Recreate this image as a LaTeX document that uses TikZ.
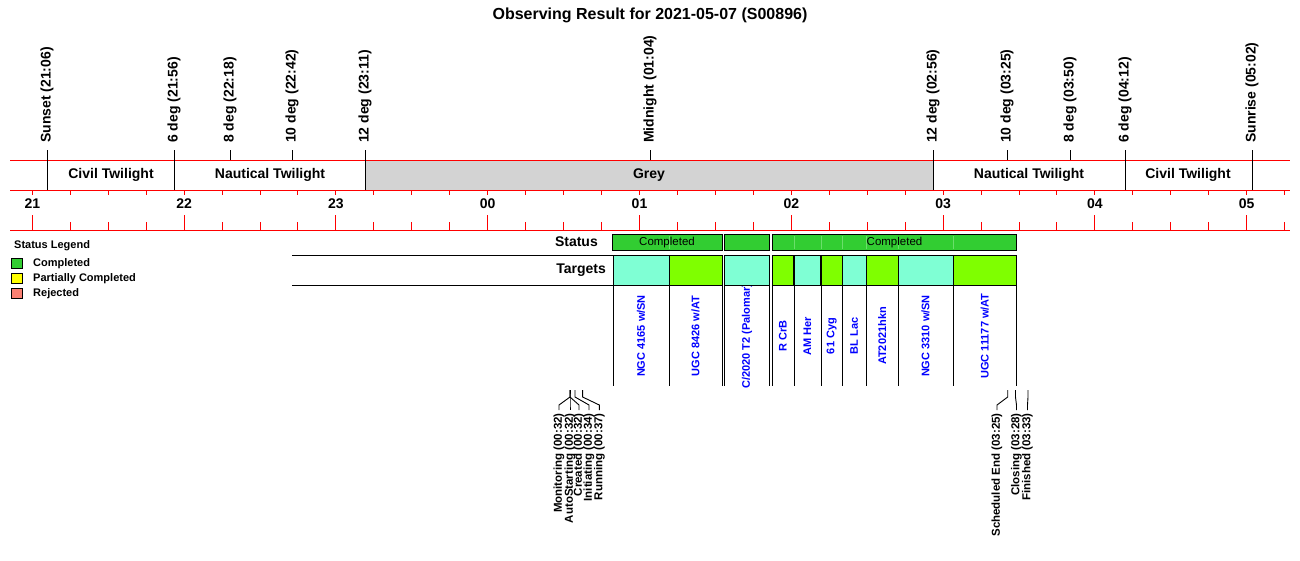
\documentclass[tikz,border=0pt]{standalone}
\usepackage{fontspec}
\setmainfont{Liberation Sans}
\definecolor{lgreen}{HTML}{32CD32}
\definecolor{aqua}{HTML}{7FFFD4}
\definecolor{chart}{HTML}{7FFF00}
\definecolor{greyband}{HTML}{D3D3D3}
\definecolor{salmonc}{HTML}{FA8072}
\definecolor{faint}{HTML}{6ADF6A}
\definecolor{yel}{HTML}{FFFF00}
\begin{document}
\begin{tikzpicture}[x=1pt,y=-1pt,
  redline/.style={draw=red, line width=1pt},
  blk/.style={draw=black, line width=1pt},
  titlefont/.style={font=\fontsize{16}{18}\selectfont\bfseries},
  evlabel/.style={rotate=90, anchor=west, inner sep=0pt, font=\fontsize{14}{16}\selectfont\bfseries},
  bandlabel/.style={inner sep=0pt, font=\fontsize{14}{16}\selectfont\bfseries},
  hourlabel/.style={inner sep=0pt, font=\fontsize{14}{16}\selectfont\bfseries},
  rowlabel/.style={anchor=east, inner sep=0pt, font=\fontsize{14}{16}\selectfont\bfseries},
  tgtlabel/.style={rotate=90, inner sep=0pt, text=blue, font=\fontsize{11}{12}\selectfont\bfseries},
  botlabel/.style={rotate=90, anchor=east, inner sep=0pt, font=\fontsize{11.5}{12}\selectfont\bfseries},
  legtitle/.style={anchor=west, inner sep=0pt, font=\fontsize{11}{12}\selectfont\bfseries},
  legtext/.style={anchor=west, inner sep=0pt, font=\fontsize{11}{12}\selectfont\bfseries},
  legbox/.style={draw=black, line width=1pt, minimum width=11pt, minimum height=10pt, inner sep=0pt},
  statusbox/.style={fill=lgreen, inner sep=0pt, minimum height=15pt},
  statustext/.style={inner sep=0pt, font=\fontsize{11.5}{13}\selectfont},
  tgtbox/.style={draw=black, line width=1pt, inner sep=0pt, minimum height=30pt}
]
\useasboundingbox (0,0) rectangle (1300,560);

% title
\node[titlefont] (title) at (650,15) {Observing Result for 2021-05-07 (S00896)};

% grey band
\fill[greyband] (365,160) rectangle (933,190);

% red axis lines
\draw[redline] (10,160) -- (1290,160);
\draw[redline] (10,190) -- (1290,190);
\draw[redline] (10,230) -- (1290,230);

% ticks
\foreach \k in {0,...,33} {
  \pgfmathsetmacro\tx{32.3+37.95*\k}
  \pgfmathsetmacro\ty{ifthenelse(mod(\k,4)==0,215,222)}
  \draw[redline] (\tx,190) -- (\tx,195);
  \draw[redline] (\tx,\ty) -- (\tx,230);
}

% hour labels
\foreach \h [count=\i from 0] in {21,22,23,00,01,02,03,04,05} {
  \node[hourlabel] (hr\i) at ({32.3+151.8*\i},203.5) {\h};
}

% top events
\foreach \x/\t/\n/\e in {
  47/{Sunset (21:06)}/ss/190,
  174/{6 deg (21:56)}/ea/190,
  230/{8 deg (22:18)}/eb/160,
  292/{10 deg (22:42)}/ec/160,
  365/{12 deg (23:11)}/ed/190,
  650/{Midnight (01:04)}/mn/160,
  933/{12 deg (02:56)}/me/190,
  1007/{10 deg (03:25)}/mf/160,
  1070/{8 deg (03:50)}/mg/160,
  1125/{6 deg (04:12)}/mh/190,
  1252/{Sunrise (05:02)}/sr/190} {
  \coordinate (\n t) at (\x,150);
  \coordinate (\n b) at (\x,\e);
  \draw[blk] (\n t) -- (\n b);
  \node[evlabel] (\n l) at (\x,143) {\t};
}

% band labels
\node[bandlabel] (civ1) at (111,175) {Civil Twilight};
\node[bandlabel] (nau1) at (270,175) {Nautical Twilight};
\node[bandlabel] (grey) at (649,175) {Grey};
\node[bandlabel] (nau2) at (1029,175) {Nautical Twilight};
\node[bandlabel] (civ2) at (1188,175) {Civil Twilight};

% legend
\node[legtitle] (legt) at (14,246) {Status Legend};
\node[legbox, fill=lgreen] (lg1) at (16.5,263) {};
\node[legbox, fill=yel] (lg2) at (16.5,278) {};
\node[legbox, fill=salmonc] (lg3) at (16.5,293) {};
\node[legtext] (lt1) at (33,264) {Completed};
\node[legtext] (lt2) at (33,279) {Partially Completed};
\node[legtext] (lt3) at (33,294) {Rejected};

% row labels and lines
\node[rowlabel] (statuslbl) at (598,242) {Status};
\node[rowlabel] (targetslbl) at (606,270) {Targets};
\draw[blk] (292,255) -- (613,255);
\draw[blk] (292,285) -- (613,285);

% status boxes
\node[statusbox, minimum width=109pt] (sb1) at (667.5,242.5) {};
\node[statusbox, minimum width=45pt] (sb2) at (747,242.5) {};
\node[statusbox, minimum width=244pt] (sb3) at (894.5,242.5) {};
\foreach \x in {669,794,821,842,866.5,898,953} {
  \draw[faint, line width=0.8pt] (\x,236) -- (\x,249);
}
\draw[blk] (sb1.north west) rectangle (sb1.south east);
\draw[blk] (sb2.north west) rectangle (sb2.south east);
\draw[blk] (sb3.north west) rectangle (sb3.south east);
\node[statustext] (st1) at (667,242.5) {Completed};
\node[statustext] (st3) at (894.5,242.5) {Completed};

% target labels
\def\targets{613/669/aqua/{NGC 4165 w/SN}/ta,
  669/722/chart/{UGC 8426 w/AT}/tb,
  724.5/769.5/aqua/{C/2020 T2 (Palomar)}/tc,
  772.5/793/chart/{R CrB}/td,
  794.5/820.5/aqua/{AM Her}/te,
  821.5/842/chart/{61 Cyg}/tf,
  842/866.5/aqua/{BL Lac}/tg,
  866.5/898/chart/{AT2021hkn}/th,
  898/953/aqua/{NGC 3310 w/SN}/ti,
  953/1016.5/chart/{UGC 11177 w/AT}/tj}
\foreach \a/\b/\c/\t/\n in \targets {
  \pgfmathsetmacro\mx{(\a+\b)/2}
  \node[tgtlabel] (\n l) at (\mx,336) {\t};
}
\foreach \a/\b/\c/\t/\n in \targets {
  \pgfmathsetmacro\mx{(\a+\b)/2}
  \pgfmathsetmacro\w{\b-\a}
  \node[tgtbox, fill=\c, minimum width=\w pt] (\n) at (\mx,270) {};
}
\foreach \x in {613,669,722,724.5,769.5,772.5,794.5,821,842,866.5,898,953,1016.5} {
  \draw[blk] (\x,285) -- (\x,386);
}

% bottom events
\foreach \ex/\lx/\t/\n in {
  570/559/{Monitoring (00:32)}/bmo,
  570/570/{AutoStarting (00:32)}/bas,
  570/579/{Created (00:32)}/bcr,
  575/589/{Initiating (00:34)}/bin,
  582.6/599.3/{Running (00:37)}/bru,
  1007.7/997/{Scheduled End (03:25)}/bse,
  1015.5/1016.5/{Closing (03:28)}/bcl,
  1028/1027.5/{Finished (03:33)}/bfi} {
  \node[botlabel] (\n) at (\lx,413) {\t};
  \coordinate (\n s) at (\ex,390);
  \coordinate (\n k) at (\ex,397);
  \coordinate (\n d) at (\lx,405);
  \coordinate (\n e) at (\lx,410);
  \draw[draw=black, line width=0.9pt] (\n s) -- (\n k) -- (\n d) -- (\n e);
}
\end{tikzpicture}
\end{document}
